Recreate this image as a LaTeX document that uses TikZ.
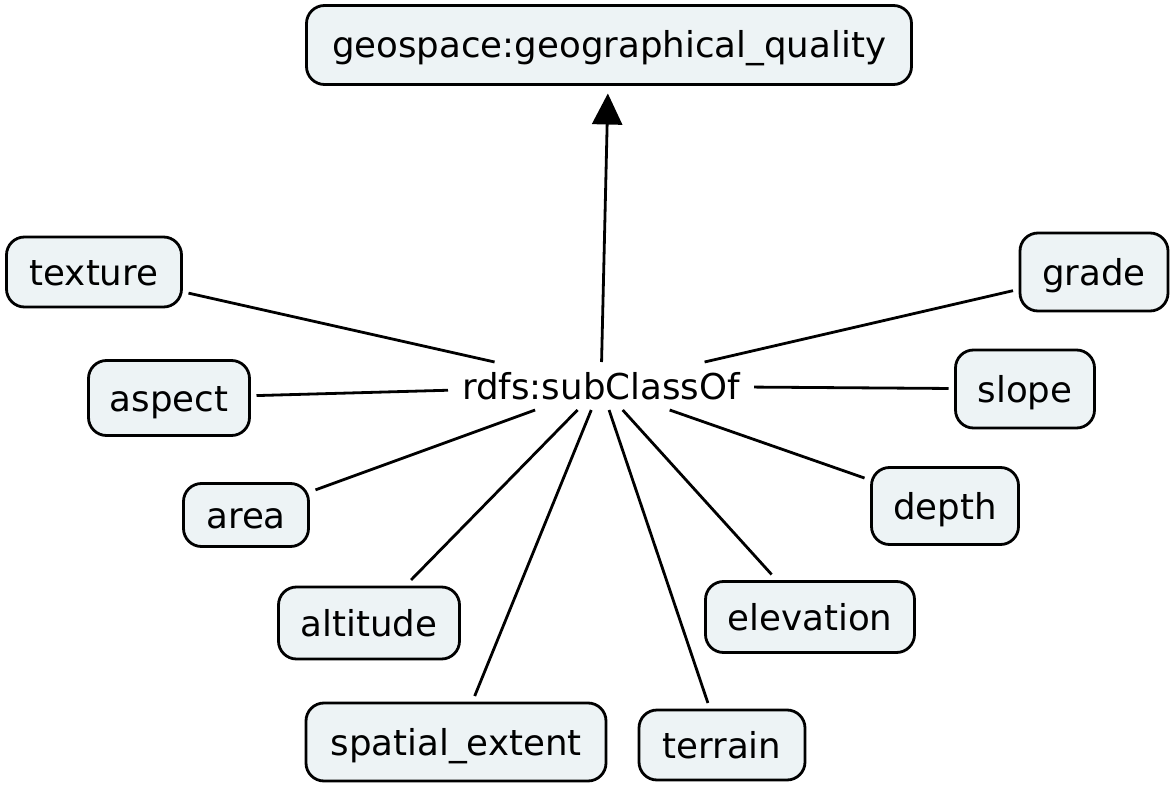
\documentclass[tikz,border=0pt]{standalone}
\usepackage{fontspec}
\setmainfont{DejaVu Sans}
\usetikzlibrary{arrows.meta}
\definecolor{boxfill}{RGB}{237,243,245}
\tikzset{
  concept/.style={draw=black, line width=2.8bp, fill=boxfill, rounded corners=18bp,
    inner sep=0pt, outer sep=7bp, font=\fontsize{35.6bp}{40bp}\selectfont,
    text height=26bp, text depth=0pt},
  link/.style={draw=black, line width=2.8bp},
}
\begin{document}
\begin{tikzpicture}[x=1bp,y=-1bp]
\useasboundingbox (0,0) rectangle (1176,791);
\node[concept, minimum width=605bp, minimum height=79bp, outer sep=9bp] (top) at (609,45) {geospace:geographical\_quality};
\node[concept, minimum width=175bp, minimum height=70bp] (texture) at (94,272) {texture};
\node[concept, minimum width=161bp, minimum height=75bp] (aspect) at (169,398) {aspect};
\node[concept, minimum width=125bp, minimum height=63bp] (area) at (246,515) {area};
\node[concept, minimum width=181bp, minimum height=72bp] (altitude) at (369,623) {altitude};
\node[concept, minimum width=300bp, minimum height=78bp] (spatial) at (456,742) {spatial\_extent};
\node[concept, minimum width=166bp, minimum height=70bp] (terrain) at (722,745) {terrain};
\node[concept, minimum width=209bp, minimum height=71bp] (elevation) at (810,617) {elevation};
\node[concept, minimum width=147bp, minimum height=77bp] (depth) at (945,506) {depth};
\node[concept, minimum width=139bp, minimum height=78bp] (slope) at (1025,389) {slope};
\node[concept, minimum width=148bp, minimum height=78bp] (grade) at (1094,272) {grade};
\node[inner sep=0pt, outer sep=0pt, minimum width=306bp, minimum height=48bp,
  font=\fontsize{35.6bp}{40bp}\selectfont, text height=26bp, text depth=0pt] (lbl) at (601,386) {rdfs:subClassOf};
\draw[link, -{Triangle[width=30bp,length=31bp]}] (lbl) -- (top);
\foreach \n in {texture,aspect,area,altitude,spatial,terrain,elevation,depth,slope,grade}
  \draw[link] (lbl) -- (\n);
\end{tikzpicture}
\end{document}
